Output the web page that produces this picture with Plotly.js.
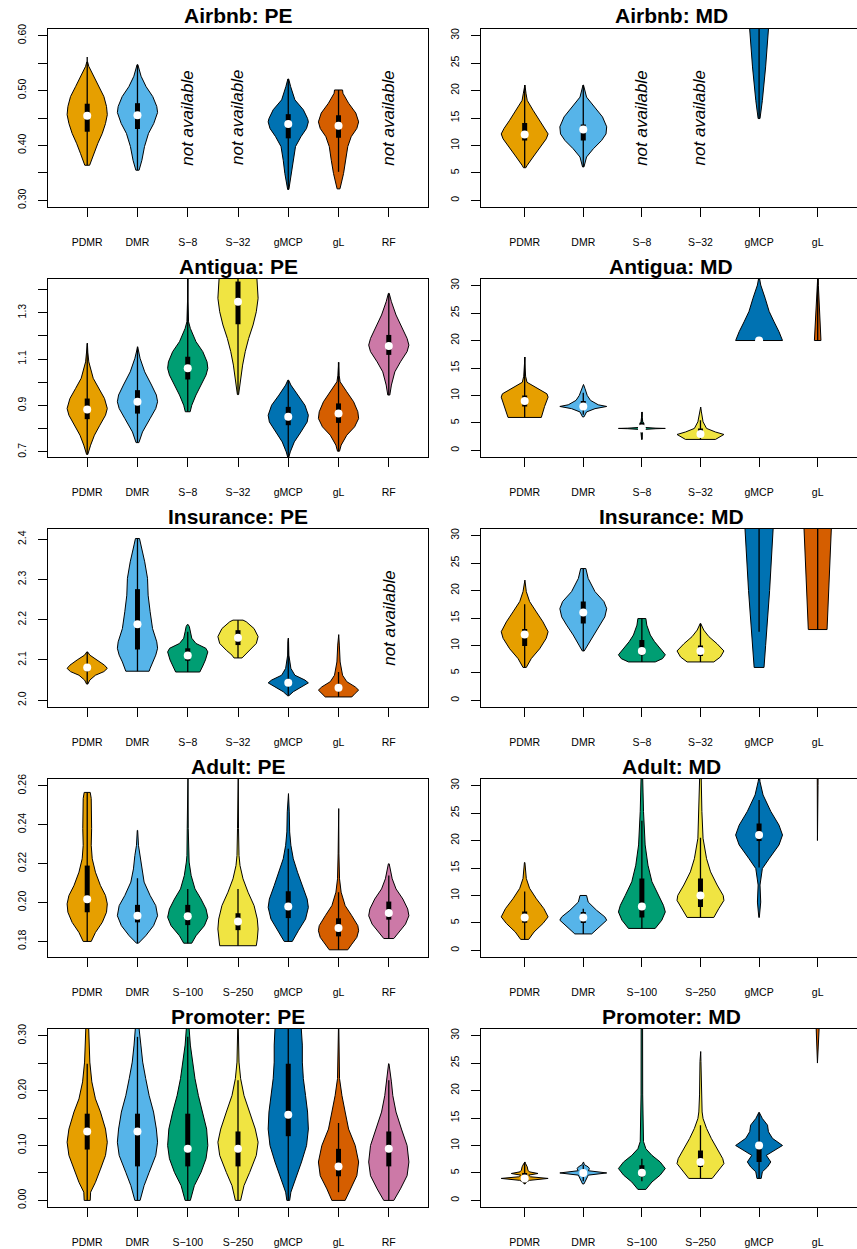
<!DOCTYPE html>
<html><head><meta charset="utf-8">
<script src="https://cdn.plot.ly/plotly-3.0.1.min.js"></script>
<style>html,body{margin:0;padding:0;background:#fff}#chart{width:857px;height:1249px}</style>
</head><body><div id="chart"></div>
<script>
// ---------- categories, colours, ticks ----------
const catsSmall = ["PDMR","DMR","S\u22128","S\u221232","gMCP","gL","RF"];
const catsLarge = ["PDMR","DMR","S\u2212100","S\u2212250","gMCP","gL","RF"];
const methodColors = ["#E69F00","#56B4E9","#009E73","#F0E442","#0072B2","#D55E00","#CC79A7"];

const mdTickVals = [0,5,10,15,20,25,30];
const mdTickText = ["0","5","10","15","20","25","30"];
const airbnbPETickVals = [0.30,0.35,0.40,0.45,0.50,0.55,0.60];
const airbnbPETickText = ["0.30","","0.40","","0.50","","0.60"];
const antiguaPETickVals = [0.7,0.8,0.9,1.0,1.1,1.2,1.3,1.4];
const antiguaPETickText = ["0.7","","0.9","","1.1","","1.3",""];
const insurancePETickVals = [2.0,2.1,2.2,2.3,2.4];
const insurancePETickText = ["2.0","2.1","2.2","2.3","2.4"];
const adultPETickVals = [0.18,0.20,0.22,0.24,0.26];
const adultPETickText = ["0.18","0.20","0.22","0.24","0.26"];
const promoterPETickVals = [0,0.05,0.10,0.15,0.20,0.25,0.30];
const promoterPETickText = ["0.00","","0.10","","0.20","","0.30"];

// ---------- violin outlines: [value, relative density] ; boxes: [lowWhisker, q1, median, q3, highWhisker] ----------
const airbnbPE_outline = [
 [[0.364,0.12],[0.370,0.17],[0.385,0.33],[0.404,0.53],[0.422,0.75],[0.440,0.91],[0.456,1.0],[0.471,0.96],[0.489,0.83],[0.507,0.58],[0.526,0.33],[0.544,0.08],[0.552,0.02]],
 [[0.355,0.08],[0.373,0.22],[0.398,0.35],[0.422,0.55],[0.440,0.81],[0.460,1.0],[0.471,0.96],[0.489,0.76],[0.507,0.43],[0.526,0.18],[0.547,0.02]],
 null, null,
 [[0.320,0.03],[0.330,0.08],[0.349,0.17],[0.373,0.25],[0.398,0.36],[0.416,0.63],[0.431,0.91],[0.443,1.0],[0.449,0.96],[0.465,0.75],[0.483,0.33],[0.507,0.12],[0.521,0.02]],
 [[0.321,0.07],[0.330,0.13],[0.349,0.25],[0.373,0.36],[0.398,0.46],[0.416,0.63],[0.431,0.91],[0.443,1.0],[0.459,0.86],[0.477,0.5],[0.495,0.22],[0.501,0.2]],
 null];
const airbnbPE_box = [[0.364,0.425,0.454,0.476,0.561],[0.355,0.430,0.455,0.477,0.547],null,null,[0.320,0.413,0.439,0.457,0.521],[0.352,0.414,0.436,0.455,0.501],null];
const airbnbPE_na = [3,4,7];

const airbnbMD_outline = [
 [[5.95,0.05],[6.4,0.11],[7.9,0.36],[9.7,0.68],[11.2,0.92],[12.1,1.0],[13.1,0.88],[14.6,0.64],[16.4,0.36],[18.2,0.11],[19.4,0.06],[21.0,0.01]],
 [[6.1,0.03],[7.9,0.14],[9.4,0.43],[10.9,0.78],[12.1,0.97],[13.4,1.0],[15.2,0.82],[17.0,0.5],[18.8,0.14],[21.0,0.01]],
 null, null,
 [[14.9,0.04],[18.2,0.14],[24.3,0.28],[31.1,0.40],[34,0.45]],
 null];
const airbnbMD_box = [[6,10.9,12.0,14.1,21],[6.1,10.9,12.9,13.8,21],null,null,[14.9,null,null,null,40],null];
const airbnbMD_na = [3,4];

const antiguaPE_outline = [
 [[0.689,0.03],[0.729,0.17],[0.772,0.36],[0.815,0.63],[0.858,0.91],[0.887,1.0],[0.930,0.86],[0.973,0.58],[1.017,0.3],[1.088,0.08],[1.13,0.03],[1.168,0.01]],
 [[0.740,0.07],[0.786,0.25],[0.844,0.63],[0.887,0.91],[0.916,1.0],[0.945,0.94],[0.988,0.7],[1.045,0.36],[1.103,0.13],[1.153,0.01]],
 [[0.873,0.12],[0.901,0.2],[0.945,0.41],[0.988,0.66],[1.031,0.91],[1.060,1.0],[1.088,0.96],[1.132,0.75],[1.175,0.41],[1.232,0.13],[1.261,0.04],[1.35,0.01],[1.5,0.005]],
 [[0.947,0.03],[1.017,0.13],[1.074,0.23],[1.132,0.36],[1.189,0.53],[1.247,0.75],[1.304,0.91],[1.362,1.0],[1.405,0.96],[1.448,0.94],[1.5,0.8]],
 [[0.678,0.03],[0.700,0.1],[0.743,0.3],[0.786,0.63],[0.829,0.94],[0.858,1.0],[0.901,0.83],[0.945,0.46],[0.988,0.13],[1.009,0.02]],
 [[0.703,0.05],[0.729,0.13],[0.772,0.41],[0.808,0.8],[0.844,1.0],[0.873,0.96],[0.916,0.75],[0.959,0.41],[1.002,0.08],[1.03,0.03],[1.086,0.01]],
 [[0.945,0.05],[0.988,0.13],[1.045,0.3],[1.088,0.58],[1.132,0.91],[1.160,1.0],[1.189,0.91],[1.232,0.66],[1.290,0.36],[1.347,0.13],[1.383,0.02]]];
const antiguaPE_box = [[0.69,0.841,0.883,0.930,1.168],[0.740,0.865,0.916,0.966,1.153],[0.873,1.012,1.060,1.110,1.5],[0.947,1.250,1.347,1.434,1.6],[0.67,0.815,0.851,0.894,1.009],[0.703,0.825,0.865,0.909,1.086],[0.945,1.118,1.156,1.204,1.383]];
const antiguaPE_na = [];

const antiguaMD_outline = [
 [[6.0,0.71],[8.0,0.85],[9.7,1.0],[10.3,0.95],[11.0,0.65],[11.8,0.35],[12.4,0.1],[13.5,0.04],[15,0.02],[17,0.01]],
 [[6.1,0.03],[7.0,0.14],[7.6,0.5],[8.0,1.0],[8.3,0.64],[9.1,0.31],[10.0,0.17],[11.3,0.07],[12.0,0.01]],
 [[2.0,0.01],[3.0,0.015],[3.8,0.05],[3.95,0.6],[4.0,1.0],[4.05,0.6],[4.2,0.05],[4.8,0.04],[5.0,0.08],[5.2,0.04],[6.0,0.015],[7.0,0.01]],
 [[2.0,0.64],[2.4,0.78],[2.9,1.0],[3.35,0.64],[4.0,0.26],[5.2,0.11],[7.0,0.04],[7.9,0.01]],
 [[20,1.0],[21.6,0.85],[23.4,0.64],[25.3,0.43],[27.7,0.26],[30.1,0.07],[31.3,0.02],[33,0.005]],
 [[20,0.14],[25,0.08],[30,0.03],[33,0.02]]];
const antiguaMD_box = [[6,8,9,10,17],[6.5,8,8,9,10.5],[2,4,4,5,7],[2,3,3,4,5.5],[20,20,20,20,20],[20,null,null,null,40]];
const antiguaMD_na = [];

const insurancePE_outline = [
 [[2.040,0.03],[2.050,0.13],[2.062,0.41],[2.071,0.83],[2.079,1.0],[2.087,0.86],[2.100,0.5],[2.112,0.13],[2.120,0.02]],
 [[2.072,0.58],[2.079,0.63],[2.095,0.75],[2.112,0.91],[2.129,1.0],[2.145,0.96],[2.178,0.75],[2.220,0.63],[2.261,0.53],[2.303,0.5],[2.344,0.36],[2.386,0.17],[2.402,0.1]],
 [[2.070,0.6],[2.085,0.75],[2.100,0.88],[2.120,1.0],[2.129,0.9],[2.141,0.41],[2.154,0.2],[2.170,0.13],[2.183,0.08],[2.188,0.02]],
 [[2.105,0.2],[2.112,0.3],[2.124,0.58],[2.141,0.91],[2.158,1.0],[2.178,0.8],[2.195,0.41],[2.199,0.25]],
 [[2.011,0.03],[2.021,0.25],[2.033,0.66],[2.043,1.0],[2.050,0.83],[2.062,0.33],[2.079,0.13],[2.095,0.08],[2.112,0.03],[2.145,0.015],[2.154,0.01]],
 [[2.008,0.66],[2.017,0.83],[2.025,1.0],[2.033,0.83],[2.046,0.41],[2.062,0.2],[2.095,0.08],[2.137,0.04],[2.163,0.01]],
 null];
const insurancePE_box = [[2.04,2.072,2.081,2.088,2.12],[2.072,2.126,2.189,2.276,2.402],[2.070,2.098,2.111,2.129,2.17],[2.105,2.137,2.155,2.174,2.199],[2.011,2.036,2.043,2.052,2.154],[2.008,2.023,2.031,2.04,2.07],null];
const insurancePE_na = [7];

const insuranceMD_outline = [
 [[6.0,0.07],[7.6,0.28],[9.4,0.64],[11.3,0.92],[12.5,1.0],[14.3,0.78],[16.1,0.5],[18.0,0.21],[19.8,0.07],[21.9,0.01]],
 [[9.0,0.04],[10.0,0.17],[11.9,0.43],[13.7,0.71],[15.2,0.92],[16.7,1.0],[18.0,0.88],[19.8,0.5],[22.2,0.21],[24.0,0.11]],
 [[7.0,0.57],[7.6,0.88],[8.3,1.0],[9.4,0.78],[10.7,0.54],[11.9,0.36],[13.7,0.21],[14.9,0.17]],
 [[7.0,0.57],[7.9,0.85],[9.0,1.0],[10.3,0.71],[11.6,0.36],[12.8,0.14],[14.0,0.01]],
 [[6.0,0.21],[10,0.28],[20,0.45],[31.2,0.6],[35,0.65]],
 [[12.9,0.4],[20,0.48],[31.2,0.58],[35,0.62]]];
const insuranceMD_box = [[6,9.9,12.0,13.0,17.5],[9,14.0,16.0,18.0,24],[7,8.2,9.0,11.0,15],[7,8.1,9.0,10.0,14],[12.5,null,null,null,40],[12.9,null,null,null,40]];
const insuranceMD_na = [];

const adultPE_outline = [
 [[0.180,0.2],[0.1846,0.41],[0.1898,0.75],[0.195,0.96],[0.1993,1.0],[0.2036,0.91],[0.2087,0.66],[0.2156,0.41],[0.2225,0.25],[0.2294,0.2],[0.238,0.22],[0.2466,0.22],[0.2535,0.2],[0.2566,0.15]],
 [[0.1791,0.05],[0.1829,0.41],[0.1881,0.8],[0.1932,1.0],[0.1984,0.91],[0.2036,0.63],[0.2105,0.33],[0.2173,0.2],[0.2242,0.13],[0.2294,0.05],[0.2371,0.01]],
 [[0.1791,0.2],[0.1829,0.41],[0.1881,0.83],[0.1924,1.0],[0.1967,0.91],[0.2018,0.66],[0.207,0.36],[0.2139,0.17],[0.2208,0.07],[0.2242,0.04],[0.238,0.025],[0.27,0.015]],
 [[0.1778,0.91],[0.1812,0.96],[0.1864,1.0],[0.1915,0.96],[0.1984,0.8],[0.2053,0.5],[0.2122,0.25],[0.219,0.1],[0.2242,0.05],[0.238,0.025],[0.27,0.015]],
 [[0.180,0.2],[0.1855,0.5],[0.1915,0.86],[0.1975,1.0],[0.2018,0.94],[0.2087,0.7],[0.2156,0.46],[0.2225,0.25],[0.2294,0.13],[0.2363,0.07],[0.2466,0.05],[0.256,0.01]],
 [[0.1757,0.46],[0.1786,0.66],[0.1821,0.91],[0.1855,1.0],[0.1881,0.96],[0.1932,0.66],[0.1984,0.33],[0.2053,0.13],[0.2122,0.05],[0.225,0.02],[0.2483,0.01]],
 [[0.1815,0.25],[0.1846,0.5],[0.1889,0.83],[0.1932,1.0],[0.1967,0.94],[0.2018,0.7],[0.207,0.36],[0.2122,0.17],[0.2173,0.07],[0.2199,0.02]]];
const adultPE_box = [[0.18,0.195,0.2017,0.219,0.2566],[0.1791,0.1898,0.1932,0.1988,0.2125],[0.1791,0.1884,0.1929,0.1988,0.207],[0.1778,0.1858,0.1902,0.1945,0.207],[0.18,0.192,0.1979,0.2058,0.2277],[0.1757,0.1826,0.1869,0.1919,0.2053],[0.1815,0.1912,0.1946,0.2005,0.2139]];
const adultPE_na = [];

const adultMD_outline = [
 [[2.0,0.17],[3.35,0.4],[4.9,0.78],[6.1,1.0],[7.6,0.82],[9.4,0.5],[11.3,0.21],[13.1,0.07],[16.0,0.01]],
 [[3.0,0.36],[4.3,0.71],[5.5,1.0],[6.1,0.92],[7.3,0.57],[8.8,0.21],[10.0,0.14]],
 [[4.0,0.57],[5.5,0.85],[7.0,1.0],[8.2,0.92],[10.0,0.71],[12.5,0.43],[15.5,0.26],[19.2,0.14],[25.3,0.07],[31.3,0.03],[33,0.025]],
 [[6.0,0.57],[7.6,0.78],[9.1,1.0],[10.0,0.97],[11.9,0.71],[14.3,0.43],[16.7,0.26],[20.4,0.11],[25.3,0.06],[31.3,0.03],[33,0.025]],
 [[6.0,0.01],[8.8,0.07],[11.9,0.04],[14.9,0.14],[16.7,0.43],[19.2,0.85],[21.0,1.0],[22.8,0.85],[25.3,0.5],[28.3,0.17],[30.7,0.04],[32,0.01]],
 [[20,0.01],[30,0.015],[35,0.02]]];
const adultMD_box = [[2,5.05,6.0,7.1,10.7],[3,5.0,6.0,7.0,7.6],[4,6.0,8.0,13.1,23.6],[6,7.9,10.0,13.1,20.5],[15.1,19.9,21.0,23.1,27.4],null];
const adultMD_na = [];

const promoterPE_outline = [
 [[0.0,0.15],[0.015,0.17],[0.033,0.41],[0.057,0.66],[0.082,0.91],[0.106,1.0],[0.130,0.91],[0.161,0.66],[0.185,0.41],[0.216,0.23],[0.252,0.13],[0.313,0.07],[0.34,0.05]],
 [[0.0,0.13],[0.027,0.33],[0.051,0.58],[0.082,0.91],[0.106,1.0],[0.130,0.94],[0.161,0.8],[0.191,0.58],[0.222,0.41],[0.252,0.26],[0.283,0.17],[0.313,0.08],[0.34,0.05]],
 [[0.0,0.13],[0.027,0.33],[0.051,0.66],[0.076,0.91],[0.100,1.0],[0.130,0.94],[0.161,0.75],[0.191,0.53],[0.222,0.36],[0.252,0.25],[0.283,0.13],[0.313,0.07],[0.34,0.05]],
 [[0.0,0.13],[0.027,0.3],[0.051,0.58],[0.082,0.91],[0.106,1.0],[0.130,0.86],[0.161,0.58],[0.191,0.3],[0.222,0.13],[0.252,0.05],[0.313,0.015],[0.34,0.01]],
 [[0.0,0.07],[0.015,0.13],[0.039,0.36],[0.070,0.66],[0.100,0.91],[0.130,1.0],[0.161,0.96],[0.191,0.86],[0.222,0.75],[0.252,0.7],[0.283,0.7],[0.313,0.66],[0.34,0.6]],
 [[0.0,0.33],[0.021,0.58],[0.045,0.91],[0.070,1.0],[0.100,0.83],[0.130,0.5],[0.161,0.33],[0.191,0.17],[0.222,0.05],[0.313,0.015],[0.34,0.01]],
 [[0.0,0.25],[0.021,0.58],[0.045,0.91],[0.070,1.0],[0.100,0.91],[0.130,0.63],[0.161,0.36],[0.191,0.2],[0.216,0.13],[0.234,0.07],[0.249,0.01]]];
const promoterPE_box = [[0,0.0927,0.1256,0.158,0.249],[0,0.062,0.1256,0.158,0.298],[0,0.062,0.094,0.158,0.298],[0,0.062,0.094,0.1256,0.219],[0,0.117,0.156,0.249,0.35],[0.015,0.044,0.062,0.094,0.141],[0,0.062,0.094,0.1256,0.219]];
const promoterPE_na = [];

const promoterMD_outline = [
 [[3.0,0.02],[3.35,0.07],[3.65,0.21],[4.0,1.0],[4.3,0.25],[4.6,0.17],[4.9,0.57],[5.2,0.2],[5.5,0.14],[6.1,0.11],[6.7,0.04],[7.0,0.01]],
 [[3.0,0.03],[3.65,0.11],[4.3,0.18],[4.6,0.21],[5.0,1.0],[5.4,0.22],[5.8,0.26],[6.1,0.21],[6.5,0.05],[7.0,0.01]],
 [[2.0,0.17],[3.35,0.43],[4.6,0.78],[5.8,1.0],[7.0,0.78],[8.2,0.43],[9.4,0.17],[10.7,0.07],[19.2,0.035],[31.3,0.03],[33,0.03]],
 [[4.0,0.5],[5.5,0.78],[6.7,1.0],[7.6,0.95],[9.4,0.71],[11.3,0.46],[13.1,0.26],[14.9,0.11],[16.1,0.07],[19.2,0.04],[25.3,0.02],[27.1,0.01]],
 [[4.0,0.09],[5.2,0.14],[6.1,0.36],[7.0,0.5],[8.2,0.31],[9.1,0.64],[10.0,1.0],[11.3,0.57],[12.5,0.4],[13.7,0.36],[14.9,0.14],[16.0,0.01]],
 [[25,0.01],[30,0.05],[32,0.07]]];
const promoterMD_box = [[3,4,4,5,7],[3.5,5,5,5,6.5],[3.5,4.3,5.05,6.4,7.6],[4,6.1,7.0,9.1,13.7],[4,7.0,10.0,10.0,16],null];
const promoterMD_na = [];

// ---------- panel set-up ----------
const W = 857, H = 1249;
const panels = [
 {title:"Airbnb: PE", cats:catsSmall, n:7, outline:airbnbPE_outline, box:airbnbPE_box, na:airbnbPE_na, yr:[0.288,0.612], tv:airbnbPETickVals, tt:airbnbPETickText},
 {title:"Airbnb: MD", cats:catsSmall, n:6, outline:airbnbMD_outline, box:airbnbMD_box, na:airbnbMD_na, yr:[-1.2,31.2], tv:mdTickVals, tt:mdTickText},
 {title:"Antigua: PE", cats:catsSmall, n:7, outline:antiguaPE_outline, box:antiguaPE_box, na:antiguaPE_na, yr:[0.678,1.445], tv:antiguaPETickVals, tt:antiguaPETickText},
 {title:"Antigua: MD", cats:catsSmall, n:6, outline:antiguaMD_outline, box:antiguaMD_box, na:antiguaMD_na, yr:[-1.2,31.2], tv:mdTickVals, tt:mdTickText},
 {title:"Insurance: PE", cats:catsSmall, n:7, outline:insurancePE_outline, box:insurancePE_box, na:insurancePE_na, yr:[1.983,2.4256], tv:insurancePETickVals, tt:insurancePETickText},
 {title:"Insurance: MD", cats:catsSmall, n:6, outline:insuranceMD_outline, box:insuranceMD_box, na:insuranceMD_na, yr:[-1.2,31.2], tv:mdTickVals, tt:mdTickText},
 {title:"Adult: PE", cats:catsLarge, n:7, outline:adultPE_outline, box:adultPE_box, na:adultPE_na, yr:[0.172,0.2635], tv:adultPETickVals, tt:adultPETickText},
 {title:"Adult: MD", cats:catsLarge, n:6, outline:adultMD_outline, box:adultMD_box, na:adultMD_na, yr:[-1.2,31.2], tv:mdTickVals, tt:mdTickText},
 {title:"Promoter: PE", cats:catsLarge, n:7, outline:promoterPE_outline, box:promoterPE_box, na:promoterPE_na, yr:[-0.012,0.3123], tv:promoterPETickVals, tt:promoterPETickText},
 {title:"Promoter: MD", cats:catsLarge, n:6, outline:promoterMD_outline, box:promoterMD_box, na:promoterMD_na, yr:[-1.2,31.2], tv:mdTickVals, tt:mdTickText}
];

const FONT = "Liberation Sans, Arial, Helvetica, sans-serif";
const traces = [];
const layout = {
  width: W, height: H, margin:{l:0,r:0,t:0,b:0}, showlegend:false,
  paper_bgcolor:"#fff", plot_bgcolor:"#fff", font:{family:FONT, color:"#000"},
  annotations: []
};

panels.forEach((p, k) => {
  const row = Math.floor(k/2), col = k%2;
  const suf = k===0 ? "" : String(k+1);
  const xa = "x"+suf, ya = "y"+suf;
  const topPx = 29 + 250*row, botPx = 207 + 250*row;
  const yDom = [1 - botPx/H, 1 - topPx/H];
  const xDom = col===0 ? [48/W, 428/W] : [481.3/W, 1];
  const xRange = col===0 ? [0.22, 7.78] : [0.26, 6.671];

  layout["xaxis"+suf] = {
    domain:xDom, range:xRange, anchor:ya, showgrid:false, zeroline:false,
    showline:true, linecolor:"#000", linewidth:1, mirror:true,
    ticks:"outside", ticklen:9, tickwidth:1, tickcolor:"#000",
    tickmode:"array", tickvals:p.cats.slice(0,p.n).map((c,i)=>i+1), ticktext:p.cats.slice(0,p.n),
    tickfont:{family:FONT, size:10.5, color:"#000"}, ticklabelstandoff:16, fixedrange:true
  };
  layout["yaxis"+suf] = {
    domain:yDom, range:p.yr, anchor:xa, showgrid:false, zeroline:false,
    showline:true, linecolor:"#000", linewidth:1, mirror: col===0,
    ticks:"outside", ticklen:9, tickwidth:1, tickcolor:"#000",
    tickmode:"array", tickvals:p.tv, ticktext:p.tt, tickangle:-90,
    tickfont:{family:FONT, size:10.5, color:"#000"}, ticklabelstandoff:8, fixedrange:true
  };

  // title
  const titleCx = col===0 ? 238/W : 671/W;
  layout.annotations.push({xref:"paper", yref:"paper", x:titleCx, y:1-(16+250*row)/H,
    xanchor:"center", yanchor:"middle", showarrow:false,
    text:"<b>"+p.title+"</b>", font:{family:FONT, size:21, color:"#000"}});

  // violins
  const wx=[], wy=[], bx=[], by=[], mx=[], my=[];
  for (let i=0;i<p.n;i++){
    const pos = i+1;
    const ol = p.outline[i];
    if (ol){
      const xs=[], ys=[];
      ol.forEach(pt => { xs.push(pos - pt[1]*0.4); ys.push(pt[0]); });
      for (let j=ol.length-1;j>=0;j--){ xs.push(pos + ol[j][1]*0.4); ys.push(ol[j][0]); }
      xs.push(xs[0]); ys.push(ys[0]);
      traces.push({type:"scatter", mode:"lines", x:xs, y:ys, xaxis:xa, yaxis:ya,
        fill:"toself", fillcolor:methodColors[i], line:{color:"#000", width:1},
        hoverinfo:"skip", showlegend:false});
    }
    const b = p.box[i];
    if (b){
      wx.push(pos,pos,null); wy.push(b[0],b[4],null);
      if (b[1]!==null){ bx.push(pos,pos,null); by.push(b[1],b[3],null); }
      if (b[2]!==null){ mx.push(pos); my.push(b[2]); }
    }
  }
  traces.push({type:"scatter", mode:"lines", x:wx, y:wy, xaxis:xa, yaxis:ya,
    line:{color:"#000", width:1.3}, hoverinfo:"skip", showlegend:false});
  traces.push({type:"scatter", mode:"lines", x:bx, y:by, xaxis:xa, yaxis:ya,
    line:{color:"#000", width:5}, hoverinfo:"skip", showlegend:false});
  traces.push({type:"scatter", mode:"markers", x:mx, y:my, xaxis:xa, yaxis:ya,
    marker:{color:"#fff", size:8, line:{width:0}}, hoverinfo:"skip", showlegend:false});

  // not available labels
  p.na.forEach(pos => {
    layout.annotations.push({xref:xa, yref:ya, x:pos, y:(p.yr[0]+p.yr[1])/2,
      text:"<i>not available</i>", textangle:-90, showarrow:false,
      xanchor:"center", yanchor:"middle", font:{family:FONT, size:17, color:"#000"}});
  });
});

Plotly.newPlot("chart", traces, layout, {staticPlot:true, displayModeBar:false});
</script>
</body></html>
